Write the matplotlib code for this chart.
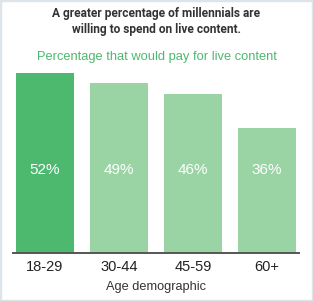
import matplotlib.pyplot as plt
from matplotlib.patches import Rectangle

# data
ages = ["18-29", "30-44", "45-59", "60+"]
share = [52, 49, 46, 36]
bar_colors = ["#4cb96e", "#9ad3a4", "#9ad3a4", "#9ad3a4"]
label_y = 24

fig = plt.figure(figsize=(3.13, 3.01), dpi=100)
ax = fig.add_axes([13/313, (301-253.3)/301, 286/313, (253.3-72.7)/301])

bars = ax.bar(range(len(ages)), share, width=0.784, color=bar_colors)
for i, v in enumerate(share):
    ax.text(i, label_y, f"{v}%", ha="center", va="center", color="white",
            fontsize=11, family="Liberation Sans")

ax.set_xlim(-0.432, 3.432)
ax.set_ylim(0, 52)
ax.set_yticks([])
ax.set_xticks(range(len(ages)))
ax.set_xticklabels(ages, fontsize=10.5, family="Liberation Sans", color="#222222")
ax.tick_params(axis="x", length=0, pad=5)
for s in ["top", "right", "left"]:
    ax.spines[s].set_visible(False)
ax.spines["bottom"].set_color("#555555")
ax.spines["bottom"].set_linewidth(1.4)
ax.set_xlabel("Age demographic", fontsize=9.2, family="Liberation Sans",
              color="#333333", labelpad=5)

fig.text(0.5, 1 - 14/301, "A greater percentage of millennials are",
         ha="center", va="center", fontsize=8.6, fontweight="bold",
         family="Roboto", color="#333333")
fig.text(0.5, 1 - 29/301, "willing to spend on live content.",
         ha="center", va="center", fontsize=8.6, fontweight="bold",
         family="Roboto", color="#333333")
fig.text(0.5, 1 - 57/301, "Percentage that would pay for live content",
         ha="center", va="center", fontsize=9.3, family="Liberation Sans",
         color="#4cb96e")

fig.patches.append(Rectangle((0, 0), 1, 1, transform=fig.transFigure,
                             fill=False, edgecolor="#dde5ea", linewidth=2.5))

fig.savefig("out.png", dpi=100)
